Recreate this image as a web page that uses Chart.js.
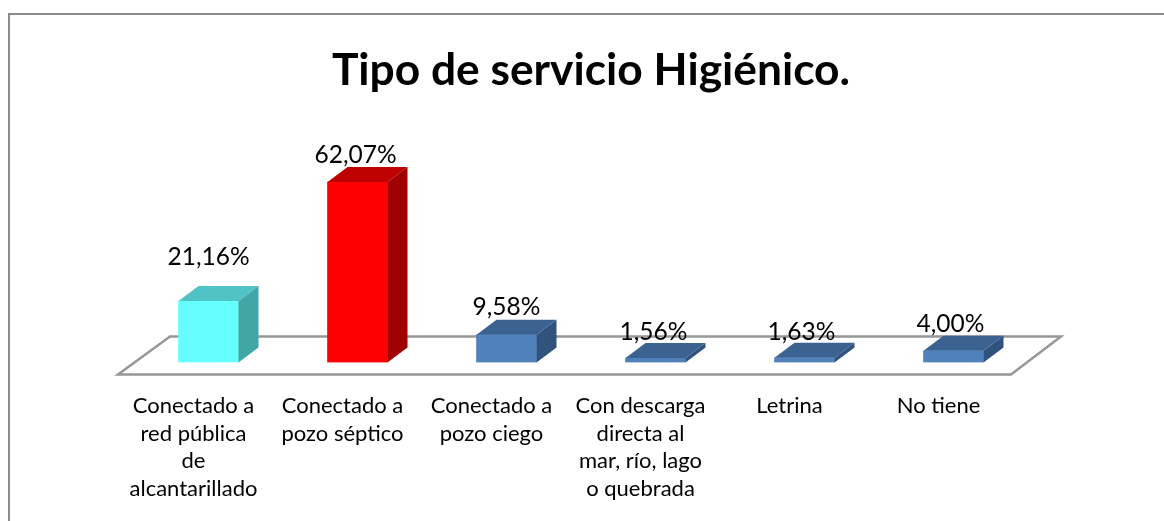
<!DOCTYPE html>
<html><head><meta charset="utf-8">
<style>html,body{margin:0;padding:0;background:#fff}#w{width:1164px;height:521px;position:relative}</style>
<script src="https://cdn.jsdelivr.net/npm/chart.js@4/dist/chart.umd.js"></script>
</head><body><div id="w"><canvas id="c" width="1164" height="521"></canvas></div>
<script>
const categories=[["Conectado a","red pública","de","alcantarillado"],["Conectado a","pozo séptico"],["Conectado a","pozo ciego"],["Con descarga","directa al","mar, río, lago","o quebrada"],["Letrina"],["No tiene"]];
const values=[21.16,62.07,9.58,1.56,1.63,4.00];
const frontColors=["#66FFFF","#FF0000","#4F81BD","#4F81BD","#4F81BD","#4F81BD"];
const topColors=["#50C4C4","#BF0000","#3C6292","#3C6292","#3C6292","#3C6292"];
const sideColors=["#40A6A6","#A00000","#30527C","#30527C","#30527C","#30527C"];
const labelDx=[0,-2,0,-2,-3,-3];
const labelDy=[-44,-27,-28,-26,-26,-27];
const fmt=v=>v.toFixed(2).replace('.',',')+'%';
const DX=20,DY=15;
const scene={id:'scene',
 beforeDraw(ch){const c=ch.ctx;c.save();c.strokeStyle='#8c8c8c';c.lineWidth=2;c.beginPath();c.moveTo(9,521);c.lineTo(9,14);c.lineTo(1164,14);c.stroke();c.restore();},
 beforeDatasetsDraw(ch){const c=ch.ctx,a=ch.chartArea,b=a.bottom;c.save();c.strokeStyle='#979797';c.lineWidth=2.5;c.beginPath();
  c.moveTo(a.left-16,b+12);c.lineTo(a.right-17,b+12);c.lineTo(a.right+33,b-26);c.lineTo(a.left+36,b-26);c.closePath();c.stroke();c.restore();},
 afterDatasetsDraw(ch){const c=ch.ctx;ch.getDatasetMeta(0).data.forEach((e,i)=>{
  const l=e.x-e.width/2,r=e.x+e.width/2,t=e.y,b=e.base;
  c.fillStyle=topColors[i];c.beginPath();c.moveTo(l,t);c.lineTo(l+DX,t-DY);c.lineTo(r+DX,t-DY);c.lineTo(r,t);c.closePath();c.fill();
  c.fillStyle=sideColors[i];c.beginPath();c.moveTo(r,t);c.lineTo(r+DX,t-DY);c.lineTo(r+DX,b-DY);c.lineTo(r,b);c.closePath();c.fill();
 });
 c.save();c.fillStyle='#000';c.font='24.5px Lato';c.textAlign='center';c.textBaseline='middle';
 ch.getDatasetMeta(0).data.forEach((e,i)=>{c.fillText(fmt(values[i]),e.x+labelDx[i],e.y+labelDy[i]);});
 c.restore();}
};
new Chart(document.getElementById('c'),{type:'bar',
 data:{labels:categories,datasets:[{data:values,backgroundColor:frontColors,borderWidth:0,barThickness:60}]},
 options:{responsive:false,animation:false,events:[],
  layout:{padding:{left:18,right:0,top:0,bottom:0}},
  plugins:{legend:{display:false},tooltip:{enabled:false},
   title:{display:true,text:'Tipo de servicio Higiénico.',color:'#000',font:{family:'Lato',size:44.3,weight:'bold',lineHeight:1.2},padding:{top:44,bottom:32.7}}},
  scales:{
   x:{grid:{display:false},border:{display:false},afterFit(s){s.height=158.5;},
     ticks:{autoSkip:false,maxRotation:0,minRotation:0,padding:21,labelOffset:-15,color:'#000',font:{family:'Lato',size:22,lineHeight:1.27}}},
   y:{min:0,max:80,grid:{display:false},border:{display:false},ticks:{display:false},afterFit(s){s.width=116;}},
   y2:{position:'right',min:0,max:80,grid:{display:false},border:{display:false},ticks:{display:false},afterFit(s){s.width=136;}}
  }},
 plugins:[scene]});
</script></body></html>
